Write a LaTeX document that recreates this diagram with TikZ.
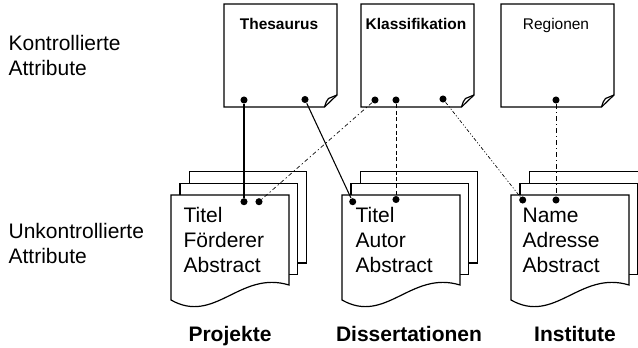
\documentclass[tikz,border=0pt]{standalone}
\usepackage{fontspec}
\setmainfont{Liberation Sans}
\begin{document}
\begin{tikzpicture}[x=0.75pt,y=-0.75pt,line width=0.9pt,
  punkt/.style={circle,fill,inner sep=0pt,minimum size=5.3pt},
  blatt/.style={draw,fill=white},
  zeile/.style={anchor=base west,inner sep=0pt,align=left,font=\fontsize{15.75}{18.75}\selectfont},
  kopf/.style={anchor=base,inner sep=0pt,font=\fontsize{11.6}{14}\selectfont},
  sammlung/.style={anchor=base,inner sep=0pt,font=\bfseries\fontsize{15.75}{18}\selectfont}]
  \clip (0,0) rectangle (638,347);
  \foreach \x/\n/\t in {224/the/\textbf{Thesaurus},361/kla/\textbf{Klassifikation},501/reg/Regionen}{
    \draw[blatt] (\x,4) -- ++(113,0) -- ++(0,91) -- ++(-12.5,12) -- ++(-100.5,0) -- cycle;
    \draw (\x+100.5,107) .. controls (\x+102.5,101) .. (\x+104.5,98.5) -- (\x+113,95);
    \node[kopf] (\n) at (\x+55,29) {\t};
  }
  \foreach \x in {171,342,511}{
    \draw[blatt] (\x+18.5,171.7) rectangle (\x+135.5,263);
    \draw[blatt] (\x+9,183.3) rectangle (\x+126.5,274.5);
    \draw[blatt] (\x,195) -- (\x+118,195) -- (\x+118,285)
      .. controls (\x+69,270) and (\x+44,325) .. (\x,300) -- cycle;
  }
  \node[zeile] (kontrolliert) at (8,75) {Kontrollierte\\Attribute};
  \node[zeile] (unkontrolliert) at (8,263) {Unkontrollierte\\Attribute};
  \node[zeile] (protext) at (183,272) {Titel\\Förderer\\Abstract};
  \node[zeile] (distext) at (355,272) {Titel\\Autor\\Abstract};
  \node[zeile] (instext) at (522,272) {Name\\Adresse\\Abstract};
  \node[sammlung] (projekte) at (230,341) {Projekte};
  \node[sammlung] (dissertationen) at (409,341) {Dissertationen};
  \node[sammlung] (institute) at (575,341) {Institute};
  \node[punkt] (the1) at (244,100) {};
  \node[punkt] (the2) at (305,99.5) {};
  \node[punkt] (kla1) at (375,100) {};
  \node[punkt] (kla2) at (396,100) {};
  \node[punkt] (kla3) at (443,99) {};
  \node[punkt] (reg1) at (556,100) {};
  \node[punkt] (pro1) at (244,201.7) {};
  \node[punkt] (pro2) at (259,201.7) {};
  \node[punkt] (dis1) at (352.7,201.7) {};
  \node[punkt] (dis2) at (396,199.5) {};
  \node[punkt] (ins1) at (522.7,200) {};
  \node[punkt] (ins2) at (556,200) {};
  \draw[line width=0.8pt] (the1) -- (pro1);
  \draw[line width=0.8pt] (the2) -- (dis1);
  \draw[line width=0.5pt,dash pattern=on 3pt off 2pt on 1pt off 2pt] (kla1) -- (pro2);
  \draw[line width=0.6pt,dash pattern=on 3pt off 2pt] (kla2) -- (dis2);
  \draw[line width=0.5pt,dash pattern=on 2.5pt off 1.5pt on 0.8pt off 1.5pt on 0.8pt off 1.5pt] (kla3) -- (ins1);
  \draw[line width=0.6pt,dash pattern=on 4pt off 2pt on 1pt off 2pt] (reg1) -- (ins2);
\end{tikzpicture}
\end{document}
